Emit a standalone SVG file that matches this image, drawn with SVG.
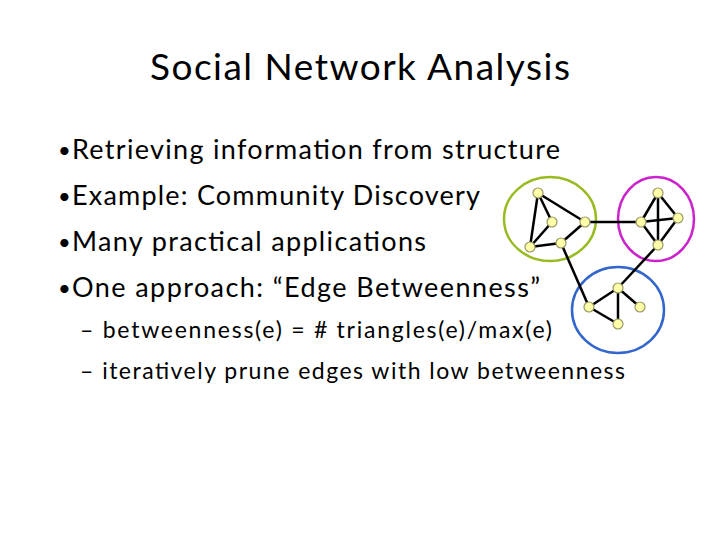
<svg xmlns="http://www.w3.org/2000/svg" width="720" height="540" viewBox="0 0 720 540">
<style>
text{font-family:Lato,"Liberation Sans",sans-serif;fill:#000}
.b{font-size:27px}.s{font-size:23px}
.d{font-size:22px}
.e line{stroke:#000;stroke-width:2.5}
.n circle{fill:#ffffaa;stroke:#999966;stroke-width:1.2}
</style>
<rect width="720" height="540" fill="#fff"/>
<text x="360" y="80" text-anchor="middle" font-size="37" textLength="420">Social Network Analysis</text>
<g class="b">
<text class="d" x="58" y="158">•</text><text x="72" y="159" textLength="488">Retrieving information from structure</text>
<text class="d" x="58" y="204">•</text><text x="72" y="205" textLength="408">Example: Community Discovery</text>
<text class="d" x="58" y="250">•</text><text x="72" y="251" textLength="354">Many practical applications</text>
<text class="d" x="58" y="296">•</text><text x="72" y="297" textLength="468">One approach: “Edge Betweenness”</text>
</g>
<g class="s">
<text x="80" y="338" textLength="472">– betweenness(e)  = # triangles(e)/max(e)</text>
<text x="80" y="379" textLength="545">– iteratively prune edges with low betweenness</text>
</g>
<g id="communities" fill="none" stroke-width="2.5">
<ellipse cx="550" cy="219" rx="46" ry="42" stroke="#99bb22"/>
<ellipse cx="656" cy="219" rx="38" ry="42" stroke="#cc22cc"/>
<ellipse cx="618" cy="310" rx="46" ry="43" stroke="#3366cc"/>
</g>
<g id="connectors" class="e">
<line x1="538" y1="193" x2="530" y2="247"/>
<line x1="538" y1="193" x2="552" y2="222"/>
<line x1="538" y1="193" x2="585" y2="222"/>
<line x1="530" y1="247" x2="552" y2="222"/>
<line x1="530" y1="247" x2="561" y2="243"/>
<line x1="561" y1="243" x2="585" y2="222"/>
<line x1="585" y1="222" x2="641" y2="222"/>
<line x1="561" y1="243" x2="589" y2="307"/>
<line x1="658" y1="193" x2="641" y2="222"/>
<line x1="658" y1="193" x2="678" y2="218"/>
<line x1="658" y1="193" x2="658" y2="245"/>
<line x1="641" y1="222" x2="678" y2="218"/>
<line x1="641" y1="222" x2="658" y2="245"/>
<line x1="678" y1="218" x2="658" y2="245"/>
<line x1="658" y1="245" x2="618" y2="288"/>
<line x1="618" y1="288" x2="589" y2="307"/>
<line x1="618" y1="288" x2="640" y2="307"/>
<line x1="618" y1="288" x2="618" y2="324"/>
<line x1="589" y1="307" x2="618" y2="324"/>
</g>
<g class="n">
<g id="n1"><circle cx="538" cy="193" r="5"/></g>
<g id="n2"><circle cx="552" cy="222" r="5"/></g>
<g id="n3"><circle cx="585" cy="222" r="5"/></g>
<g id="n4"><circle cx="530" cy="247" r="5"/></g>
<g id="n5"><circle cx="561" cy="243" r="5"/></g>
<g id="n6"><circle cx="658" cy="193" r="5"/></g>
<g id="n7"><circle cx="641" cy="222" r="5"/></g>
<g id="n8"><circle cx="678" cy="218" r="5"/></g>
<g id="n9"><circle cx="658" cy="245" r="5"/></g>
<g id="n10"><circle cx="618" cy="288" r="5"/></g>
<g id="n11"><circle cx="589" cy="307" r="5"/></g>
<g id="n12"><circle cx="640" cy="307" r="5"/></g>
<g id="n13"><circle cx="618" cy="324" r="5"/></g>
</g>
</svg>
